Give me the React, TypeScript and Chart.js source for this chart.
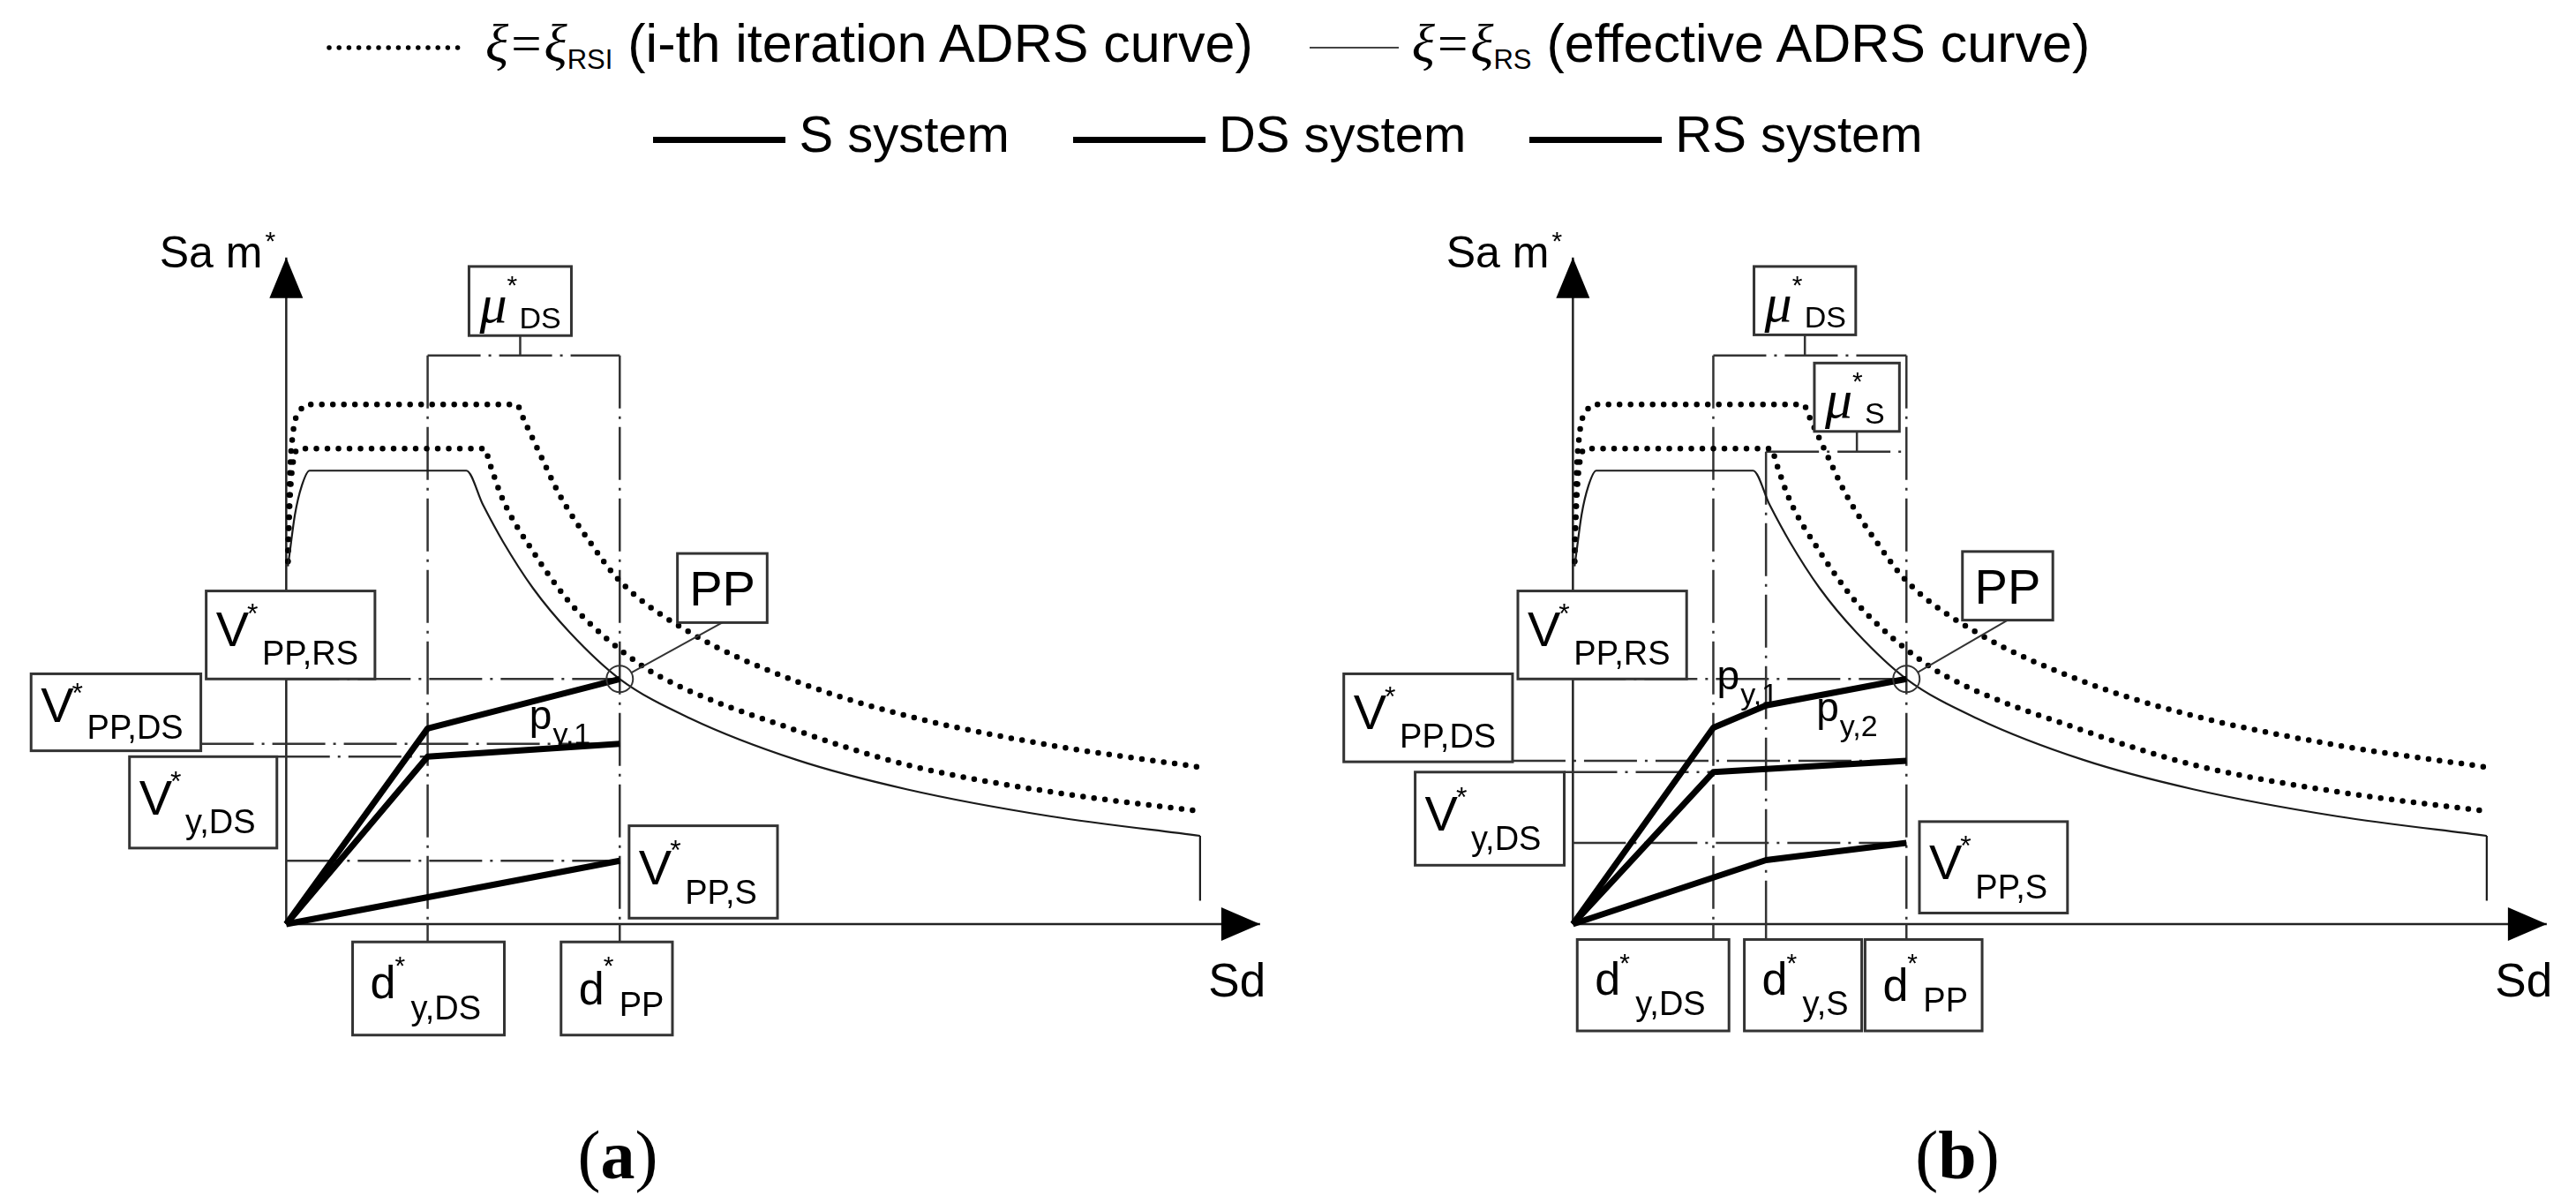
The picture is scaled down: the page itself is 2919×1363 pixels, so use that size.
import React, { useEffect, useRef } from "react";
import { Chart, registerables } from "chart.js";

Chart.register(...registerables);

// ================= DATA (Sd / Sa·m* in arbitrary units) =================
// Effective ADRS curve  ξ = ξRS (thin solid)
const EFF_X = [0.05, 0.1, 0.26, 0.47, 0.7, 5.4, 5.9, 6.5, 7.4, 8.5, 10.0, 12.1, 15.3, 18.6, 22.9, 27.4];
const EFF_Y = [14.6, 15.1, 16.7, 17.9, 18.5, 18.5, 17.1, 15.6, 13.7, 11.9, 10.0, 8.4, 6.7, 5.5, 4.4, 3.6];
const EFF_CUT_X = [27.4, 27.4];
const EFF_CUT_Y = [3.6, 0.95];
// i-th iteration ADRS curves ξ = ξRSI (dotted)
const IT1_X = [0.05, 0.1, 0.2, 0.4, 0.7, 6.9, 7.15, 7.6, 8.2, 9.1, 10.0, 12.1, 15.3, 18.6, 22.9, 27.4];
const IT1_Y = [14.8, 18.0, 20.0, 20.9, 21.2, 21.2, 20.5, 19.2, 17.5, 15.6, 14.0, 11.9, 9.9, 8.5, 7.3, 6.4];
const IT2_X = [0.05, 0.1, 0.2, 0.4, 5.95, 6.1, 6.5, 7.4, 8.45, 9.0, 10.1, 11.2, 15.3, 18.6, 22.9, 27.4];
const IT2_Y = [14.8, 17.0, 18.8, 19.4, 19.4, 18.8, 17.3, 15.2, 13.2, 12.4, 11.1, 10.1, 7.9, 6.5, 5.4, 4.6];

// Panel (a) capacity curves
const A_RS_X = [0, 4.24, 10];
const A_RS_Y = [0, 7.98, 10];
const A_DS_X = [0, 4.24, 10];
const A_DS_Y = [0, 6.83, 7.35];
const A_S_X = [0, 10];
const A_S_Y = [0, 2.58];

// Panel (b) capacity curves
const B_RS_X = [0, 4.21, 5.79, 10];
const B_RS_Y = [0, 8.01, 8.92, 10];
const B_DS_X = [0, 4.21, 10];
const B_DS_Y = [0, 6.2, 6.66];
const B_S_X = [0, 5.79, 10];
const B_S_Y = [0, 2.61, 3.31];

// Axis extents
const AXIS_X_END = 29.2;
const AXIS_Y_END = 27.2;

// Legend / caption texts
const LEGEND_ROW2 = ["S system", "DS system", "RS system"];
const CAPTIONS = ["a", "b"];

// ================= STYLE / LAYOUT =================
const SANS = '"Liberation Sans", Arial, Helvetica, sans-serif';
const SERIF = '"Liberation Serif", "Times New Roman", serif';
const X_MIN = -8, X_MAX = 29.6, Y_MIN = -6.7, Y_MAX = 29.6;
const CW = 1455, CH = 1042;
const DASHDOT = [60, 9, 3, 9];

type Box = { x0: number; x1: number; y0: number; y1: number; kind: string; main: string; sub?: string; mainBase?: number; subBase?: number };
type Txt = { x: number; y: number; runs: { t: string; font: string; dx: number; dy: number }[] };

const zip = (xs: number[], ys: number[]) => xs.map((x, i) => ({ x, y: ys[i] }));

const STYLES: Record<string, any> = {
  V: { mainFont: `56px ${SANS}`, padL: 11, mainBase: 0.63, starFont: `32px ${SANS}`, starDx: 4, starBase: 0.37, subFont: `38px ${SANS}`, subDx: 15, subBase: 0.84 },
  d: { mainFont: `52px ${SANS}`, padL: 20, mainBase: 0.6, starFont: `30px ${SANS}`, starDx: 5, starBase: 0.35, subFont: `38px ${SANS}`, subDx: 17, subBase: 0.83 },
  mu: { mainFont: `italic 62px ${SERIF}`, padL: 12, mainBase: 0.8, starFont: `30px ${SANS}`, starDx: 6, starBase: 0.4, subFont: `34px ${SANS}`, subDx: 14, subBase: 0.89 },
};

const axisTexts = (): Txt[] => [
  { x: -3.8, y: 26.8, runs: [{ t: "Sa m", font: `50px ${SANS}`, dx: 0, dy: 0 }, { t: "*", font: `30px ${SANS}`, dx: 3, dy: -20 }] },
  { x: 27.65, y: -2.96, runs: [{ t: "Sd", font: `53px ${SANS}`, dx: 0, dy: 0 }] },
];
const pLabel = (x: number, y: number, sub: string): Txt => ({
  x, y, runs: [{ t: "p", font: `46px ${SANS}`, dx: 0, dy: 0 }, { t: sub, font: `34px ${SANS}`, dx: 1, dy: 17 }],
});

// Panel (a) annotation layout
const A_BOX = {
  mu: { x0: 5.48, x1: 8.55, y0: 24.01, y1: 26.83, kind: "mu", main: "μ", sub: "DS" },
  pp: { x0: 11.73, x1: 14.42, y0: 12.3, y1: 15.12, kind: "PP", main: "PP" },
  vppRS: { x0: -2.4, x1: 2.66, y0: 10.0, y1: 13.59, kind: "V", main: "V", sub: "PP,RS" },
  vppDS: { x0: -7.65, x1: -2.56, y0: 7.07, y1: 10.21, kind: "V", main: "V", sub: "PP,DS" },
  vyDS: { x0: -4.7, x1: -0.28, y0: 3.1, y1: 6.83, kind: "V", main: "V", sub: "y,DS" },
  vppS: { x0: 10.28, x1: 14.73, y0: 0.24, y1: 4.01, kind: "V", main: "V", sub: "PP,S" },
  dyDS: { x0: 1.99, x1: 6.54, y0: -4.53, y1: -0.73, kind: "d", main: "d", sub: "y,DS" },
  dPP: { x0: 8.24, x1: 11.58, y0: -4.53, y1: -0.73, kind: "d", main: "d", sub: "PP", mainBase: 0.67, subBase: 0.79 },
};
const B_BOX = {
  mu: { x0: 5.43, x1: 8.48, y0: 24.04, y1: 26.83, kind: "mu", main: "μ", sub: "DS" },
  muS: { x0: 7.24, x1: 9.79, y0: 20.1, y1: 22.89, kind: "mu", main: "μ", sub: "S" },
  pp: { x0: 11.68, x1: 14.39, y0: 12.4, y1: 15.2, kind: "PP", main: "PP" },
  vppRS: { x0: -1.65, x1: 3.41, y0: 10.0, y1: 13.59, kind: "V", main: "V", sub: "PP,RS" },
  vppDS: { x0: -6.87, x1: -1.81, y0: 6.62, y1: 10.21, kind: "V", main: "V", sub: "PP,DS" },
  vyDS: { x0: -4.73, x1: -0.26, y0: 2.4, y1: 6.2, kind: "V", main: "V", sub: "y,DS" },
  vppS: { x0: 10.39, x1: 14.83, y0: 0.45, y1: 4.18, kind: "V", main: "V", sub: "PP,S" },
  dyDS: { x0: 0.13, x1: 4.68, y0: -4.36, y1: -0.63, kind: "d", main: "d", sub: "y,DS" },
  dyS: { x0: 5.14, x1: 8.66, y0: -4.36, y1: -0.63, kind: "d", main: "d", sub: "y,S" },
  dPP: { x0: 8.76, x1: 12.27, y0: -4.36, y1: -0.63, kind: "d", main: "d", sub: "PP", mainBase: 0.67, subBase: 0.79 },
};

const BRACKET_DS = 23.2;
const BRACKET_S = 19.27;

const PANEL_A = {
  curves: [zip(A_RS_X, A_RS_Y), zip(A_DS_X, A_DS_Y), zip(A_S_X, A_S_Y)],
  pp: { x: A_RS_X[2], y: A_RS_Y[2] },
  verticals: [
    { x: A_RS_X[1], top: BRACKET_DS, bottom: A_BOX.dyDS.y1 },
    { x: A_RS_X[2], top: BRACKET_DS, bottom: A_BOX.dPP.y1 },
  ],
  horizontals: [
    { y: A_RS_Y[2], x0: 0, x1: A_RS_X[2] },
    { y: A_DS_Y[2], x0: A_BOX.vppDS.x1, x1: A_DS_X[2] },
    { y: A_DS_Y[1], x0: A_BOX.vyDS.x1, x1: A_DS_X[1] },
    { y: A_S_Y[1], x0: 0, x1: A_S_X[1] },
  ],
  brackets: [{ x0: A_RS_X[1], x1: A_RS_X[2], y: BRACKET_DS, box: A_BOX.mu }],
  boxes: Object.values(A_BOX) as Box[],
  ppBox: A_BOX.pp,
  texts: [...axisTexts(), pLabel(7.29, 7.94, "y,1")],
};

const PANEL_B = {
  curves: [zip(B_RS_X, B_RS_Y), zip(B_DS_X, B_DS_Y), zip(B_S_X, B_S_Y)],
  pp: { x: B_RS_X[3], y: B_RS_Y[3] },
  verticals: [
    { x: B_RS_X[1], top: BRACKET_DS, bottom: B_BOX.dyDS.y1 },
    { x: B_RS_X[2], top: BRACKET_S, bottom: B_BOX.dyS.y1 },
    { x: B_RS_X[3], top: BRACKET_DS, bottom: B_BOX.dPP.y1 },
  ],
  horizontals: [
    { y: B_RS_Y[3], x0: 0, x1: B_RS_X[3] },
    { y: B_DS_Y[2], x0: B_BOX.vppDS.x1, x1: B_DS_X[2] },
    { y: B_DS_Y[1], x0: B_BOX.vyDS.x1, x1: B_DS_X[1] },
    { y: B_S_Y[2], x0: 0, x1: B_S_X[2] },
  ],
  brackets: [
    { x0: B_RS_X[1], x1: B_RS_X[3], y: BRACKET_DS, box: B_BOX.mu },
    { x0: B_RS_X[2], x1: B_RS_X[3], y: BRACKET_S, box: B_BOX.muS },
  ],
  boxes: Object.values(B_BOX) as Box[],
  ppBox: B_BOX.pp,
  texts: [...axisTexts(), pLabel(4.32, 9.58, "y,1"), pLabel(7.3, 8.29, "y,2")],
};

// ================= DRAWING =================
function lineDs(data: { x: number; y: number }[], extra: any) {
  return {
    data,
    showLine: true,
    pointRadius: 0,
    pointHoverRadius: 0,
    fill: false,
    borderColor: "#1e1e1e",
    backgroundColor: "rgba(0,0,0,0)",
    borderWidth: 2,
    ...extra,
  };
}

function buildDatasets(p: typeof PANEL_A) {
  const ds: any[] = [];
  ds.push({
    data: [p.pp],
    showLine: false,
    pointRadius: 15,
    pointHoverRadius: 15,
    pointBorderWidth: 2,
    pointBorderColor: "#333",
    pointBackgroundColor: "rgba(0,0,0,0)",
  });
  for (const c of p.curves) {
    ds.push(lineDs(c, { borderWidth: 7, borderColor: "#000", borderJoinStyle: "round" }));
  }
  ds.push(lineDs(zip(EFF_X, EFF_Y), { borderWidth: 2.2, borderColor: "#1a1a1a", cubicInterpolationMode: "monotone" }));
  ds.push(lineDs(zip(EFF_CUT_X, EFF_CUT_Y), { borderWidth: 2.2, borderColor: "#1a1a1a" }));
  for (const [xs, ys] of [[IT1_X, IT1_Y], [IT2_X, IT2_Y]]) {
    ds.push(
      lineDs(zip(xs, ys), {
        borderWidth: 6.5,
        borderColor: "#000",
        borderDash: [0, 12.5],
        borderCapStyle: "round",
        cubicInterpolationMode: "monotone",
      })
    );
  }
  const dd = { borderWidth: 2.5, borderColor: "#333", borderDash: DASHDOT };
  for (const h of p.horizontals) ds.push(lineDs([{ x: h.x0, y: h.y }, { x: h.x1, y: h.y }], dd));
  for (const v of p.verticals) {
    ds.push(lineDs([{ x: v.x, y: v.top }, { x: v.x, y: 0 }], dd));
    ds.push(lineDs([{ x: v.x, y: 0 }, { x: v.x, y: v.bottom }], { borderWidth: 2.5, borderColor: "#333" }));
  }
  for (const b of p.brackets) {
    ds.push(lineDs([{ x: b.x0, y: b.y }, { x: b.x1, y: b.y }], dd));
    const cx = (b.box.x0 + b.box.x1) / 2;
    ds.push(lineDs([{ x: cx, y: b.box.y0 }, { x: cx, y: b.y }], { borderWidth: 2.5, borderColor: "#333" }));
  }
  // axes
  ds.push(lineDs([{ x: 0, y: 0 }, { x: AXIS_X_END, y: 0 }], { borderWidth: 2.5, borderColor: "#222" }));
  ds.push(lineDs([{ x: 0, y: 0 }, { x: 0, y: AXIS_Y_END }], { borderWidth: 2.5, borderColor: "#222" }));
  return ds;
}

function makePlugin(p: typeof PANEL_A) {
  return {
    id: "schematic",
    afterDatasetsDraw(chart: any) {
      const ctx: CanvasRenderingContext2D = chart.ctx;
      const xs = chart.scales.x;
      const ys = chart.scales.y;
      const px = (v: number) => xs.getPixelForValue(v);
      const py = (v: number) => ys.getPixelForValue(v);
      ctx.save();
      // arrow heads
      ctx.fillStyle = "#000";
      const yt = { x: px(0), y: py(AXIS_Y_END) };
      ctx.beginPath();
      ctx.moveTo(yt.x, yt.y);
      ctx.lineTo(yt.x - 19, yt.y + 46);
      ctx.lineTo(yt.x + 19, yt.y + 46);
      ctx.closePath();
      ctx.fill();
      const xt = { x: px(AXIS_X_END), y: py(0) };
      ctx.beginPath();
      ctx.moveTo(xt.x, xt.y);
      ctx.lineTo(xt.x - 44, xt.y - 19);
      ctx.lineTo(xt.x - 44, xt.y + 19);
      ctx.closePath();
      ctx.fill();
      // PP leader line
      const c = { x: px(p.pp.x), y: py(p.pp.y) };
      const t = { x: px((p.ppBox.x0 + p.ppBox.x1) / 2), y: py(p.ppBox.y0) };
      const L = Math.hypot(t.x - c.x, t.y - c.y);
      ctx.strokeStyle = "#333";
      ctx.lineWidth = 2;
      ctx.beginPath();
      ctx.moveTo(c.x + ((t.x - c.x) / L) * 15, c.y + ((t.y - c.y) / L) * 15);
      ctx.lineTo(t.x, t.y);
      ctx.stroke();
      // boxes
      ctx.textAlign = "left";
      ctx.textBaseline = "alphabetic";
      for (const b of p.boxes) {
        const l = px(b.x0), r = px(b.x1), top = py(b.y1), bot = py(b.y0);
        const h = bot - top;
        ctx.fillStyle = "#fff";
        ctx.fillRect(l, top, r - l, h);
        ctx.strokeStyle = "#333";
        ctx.lineWidth = 3;
        ctx.strokeRect(l, top, r - l, h);
        ctx.fillStyle = "#000";
        if (b.kind === "PP") {
          ctx.font = `56px ${SANS}`;
          ctx.textAlign = "center";
          ctx.fillText(b.main, (l + r) / 2, (top + bot) / 2 + 20);
          ctx.textAlign = "left";
          continue;
        }
        const st = STYLES[b.kind];
        ctx.font = st.mainFont;
        const mx = l + st.padL;
        ctx.fillText(b.main, mx, top + (b.mainBase ?? st.mainBase) * h);
        const mw = ctx.measureText(b.main).width;
        ctx.font = st.starFont;
        ctx.fillText("*", mx + mw + st.starDx - 6, top + st.starBase * h);
        ctx.font = st.subFont;
        ctx.fillText(b.sub || "", mx + mw + st.subDx, top + (b.subBase ?? st.subBase) * h);
      }
      // free texts
      for (const tx of p.texts) {
        let x = px(tx.x);
        const y = py(tx.y);
        for (const r of tx.runs) {
          ctx.font = r.font;
          ctx.fillText(r.t, x + r.dx, y + r.dy);
          x += r.dx + ctx.measureText(r.t).width;
        }
      }
      ctx.restore();
    },
  };
}

function makeConfig(p: typeof PANEL_A): any {
  return {
    type: "scatter",
    data: { datasets: buildDatasets(p) },
    options: {
      responsive: false,
      maintainAspectRatio: false,
      animation: false,
      devicePixelRatio: 1,
      events: [],
      layout: { padding: 0 },
      scales: {
        x: { type: "linear", min: X_MIN, max: X_MAX, display: false },
        y: { type: "linear", min: Y_MIN, max: Y_MAX, display: false },
      },
      plugins: { legend: { display: false }, tooltip: { enabled: false }, title: { display: false } },
    },
    plugins: [makePlugin(p)],
  };
}

const Xi = () => <span style={{ fontFamily: SERIF, fontStyle: "italic" }}>ξ</span>;

export default function App() {
  const refA = useRef<HTMLCanvasElement>(null);
  const refB = useRef<HTMLCanvasElement>(null);
  useEffect(() => {
    const a = new Chart(refA.current as HTMLCanvasElement, makeConfig(PANEL_A));
    const b = new Chart(refB.current as HTMLCanvasElement, makeConfig(PANEL_B));
    return () => {
      a.destroy();
      b.destroy();
    };
  }, []);

  const canvasStyle = (left: number): React.CSSProperties => ({
    position: "absolute",
    left,
    top: 208,
    width: CW,
    height: CH,
  });

  return (
    <div
      style={{
        position: "absolute",
        left: 0,
        top: 0,
        width: 2919,
        height: 1363,
        background: "#fff",
        overflow: "hidden",
        fontFamily: SANS,
        color: "#000",
      }}
    >
      {/* legend row 1 */}
      <div
        style={{
          position: "absolute",
          left: 370,
          top: 24,
          height: 60,
          display: "flex",
          alignItems: "center",
          fontSize: 61,
          lineHeight: "60px",
          whiteSpace: "nowrap",
        }}
      >
        <svg width={152} height={10} style={{ marginRight: 28 }}>
          <line x1={3} y1={5} x2={150} y2={5} stroke="#000" strokeWidth={5.5} strokeLinecap="round" strokeDasharray="0 11.2" />
        </svg>
        <span>
          <Xi />
          <span style={{ fontFamily: SERIF, margin: "0 3px" }}>=</span>
          <Xi />
          <span style={{ fontSize: 31, position: "relative", top: 8 }}>RSI</span> (i-th iteration ADRS curve)
        </span>
        <svg width={101} height={10} style={{ marginLeft: 64, marginRight: 15 }}>
          <line x1={0} y1={5} x2={101} y2={5} stroke="#444" strokeWidth={2} />
        </svg>
        <span>
          <Xi />
          <span style={{ fontFamily: SERIF, margin: "0 3px" }}>=</span>
          <Xi />
          <span style={{ fontSize: 31, position: "relative", top: 8 }}>RS</span> (effective ADRS curve)
        </span>
      </div>
      {/* legend row 2 */}
      <div
        style={{
          position: "absolute",
          left: 0,
          top: 123,
          width: 2919,
          height: 58,
          display: "flex",
          justifyContent: "center",
          alignItems: "center",
          fontSize: 58,
          lineHeight: "58px",
          whiteSpace: "nowrap",
        }}
      >
        {LEGEND_ROW2.map((t, i) => (
          <React.Fragment key={t}>
            <div style={{ width: 150, height: 7, background: "#000", marginRight: 15, transform: "translateY(6px)" }} />
            <span style={{ marginRight: i < LEGEND_ROW2.length - 1 ? 72 : 0 }}>{t}</span>
          </React.Fragment>
        ))}
      </div>
      <canvas ref={refA} width={CW} height={CH} style={canvasStyle(5)} />
      <canvas ref={refB} width={CW} height={CH} style={canvasStyle(1463)} />
      {CAPTIONS.map((c, i) => (
        <div
          key={c}
          style={{
            position: "absolute",
            left: i === 0 ? 600 : 2118,
            top: 1270,
            width: 200,
            textAlign: "center",
            fontFamily: SERIF,
            fontSize: 78,
            lineHeight: "78px",
          }}
        >
          (<b>{c}</b>)
        </div>
      ))}
    </div>
  );
}
